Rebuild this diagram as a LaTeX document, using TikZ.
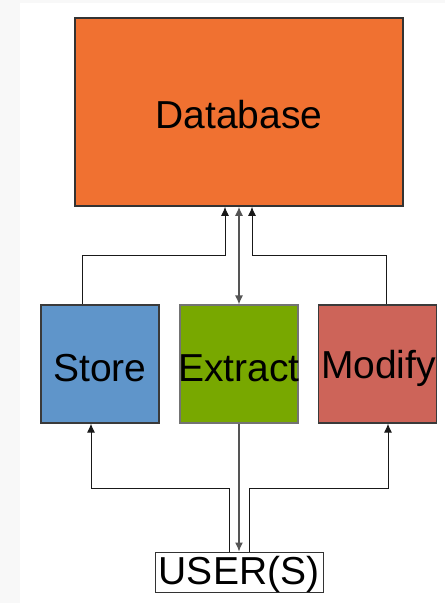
\documentclass[tikz,border=0pt]{standalone}
\usepackage{fontspec}
\setmainfont{Liberation Sans}
\usetikzlibrary{arrows.meta}
\definecolor{bgc}{HTML}{F8F8F8}
\definecolor{dborange}{HTML}{F07131}
\definecolor{stblue}{HTML}{5F95CA}
\definecolor{exgreen}{HTML}{78A800}
\definecolor{mdred}{HTML}{CD6459}
\definecolor{edgec}{HTML}{3A3A3A}
\definecolor{midc}{HTML}{555555}
\tikzset{
  boxnode/.style={rectangle, draw=edgec, line width=1.2pt, inner sep=0pt},
  txtnode/.style={inner sep=0pt, font=\fontsize{39}{40}\selectfont, text=black},
  arr/.style={line width=1pt, draw=black!90, -{Latex[length=9pt,width=8pt]}},
  midarr/.style={line width=1.2pt, draw=midc},
}
\begin{document}
\begin{tikzpicture}[x=1pt,y=-1pt]
\fill[bgc] (0,0) rectangle (445,603);
\fill[white] (20,3) rectangle (445,603);
\useasboundingbox (0,0) rectangle (445,603);

\node[boxnode, fill=dborange, draw=black!80, line width=1.6pt, minimum width=328pt, minimum height=188pt] (db) at (239,112) {};
\node[boxnode, fill=stblue, minimum width=118pt, minimum height=118pt] (st) at (100,364) {};
\node[boxnode, fill=exgreen, draw=black!55, minimum width=118pt, minimum height=118pt] (ex) at (239,364) {};
\node[boxnode, fill=mdred, minimum width=118pt, minimum height=118pt] (md) at (377.5,364) {};
\node[boxnode, fill=white, draw=black!80, line width=1pt, minimum width=168pt, minimum height=40pt] (us) at (239,572) {};

\node[txtnode] (dbt) at ([yshift=-3pt]db.center) {Database};
\node[txtnode] (stt) at ([yshift=-4pt]st.center) {Store};
\node[txtnode] (ext) at ([yshift=-4pt]ex.center) {Extract};
\node[txtnode] (mdt) at ([xshift=1pt,yshift=-4pt]md.center) {Modify};
\node[txtnode] (ust) at ([yshift=-2pt]us.center) {USER(S)};

% top connectors
\draw[arr] ([xshift=-18pt]st.north) |- (225,255) -- ([xshift=-14pt]db.south);
\draw[arr] ([xshift=8.5pt]md.north) |- (252,255) -- ([xshift=13pt]db.south);
\draw[midarr, {Latex[length=9pt,width=8pt]}-{Latex[length=9pt,width=8pt]}] (db.south) -- (ex.north);

% bottom connectors
\draw[arr] ([xshift=-10pt]us.north) |- (91,488) -- ([xshift=-9pt]st.south);
\draw[arr] ([xshift=10pt]us.north) |- (388,488) -- ([xshift=10.5pt]md.south);
\draw[midarr, -{Latex[length=9pt,width=8pt]}] (ex.south) -- (us.north);
\end{tikzpicture}
\end{document}
